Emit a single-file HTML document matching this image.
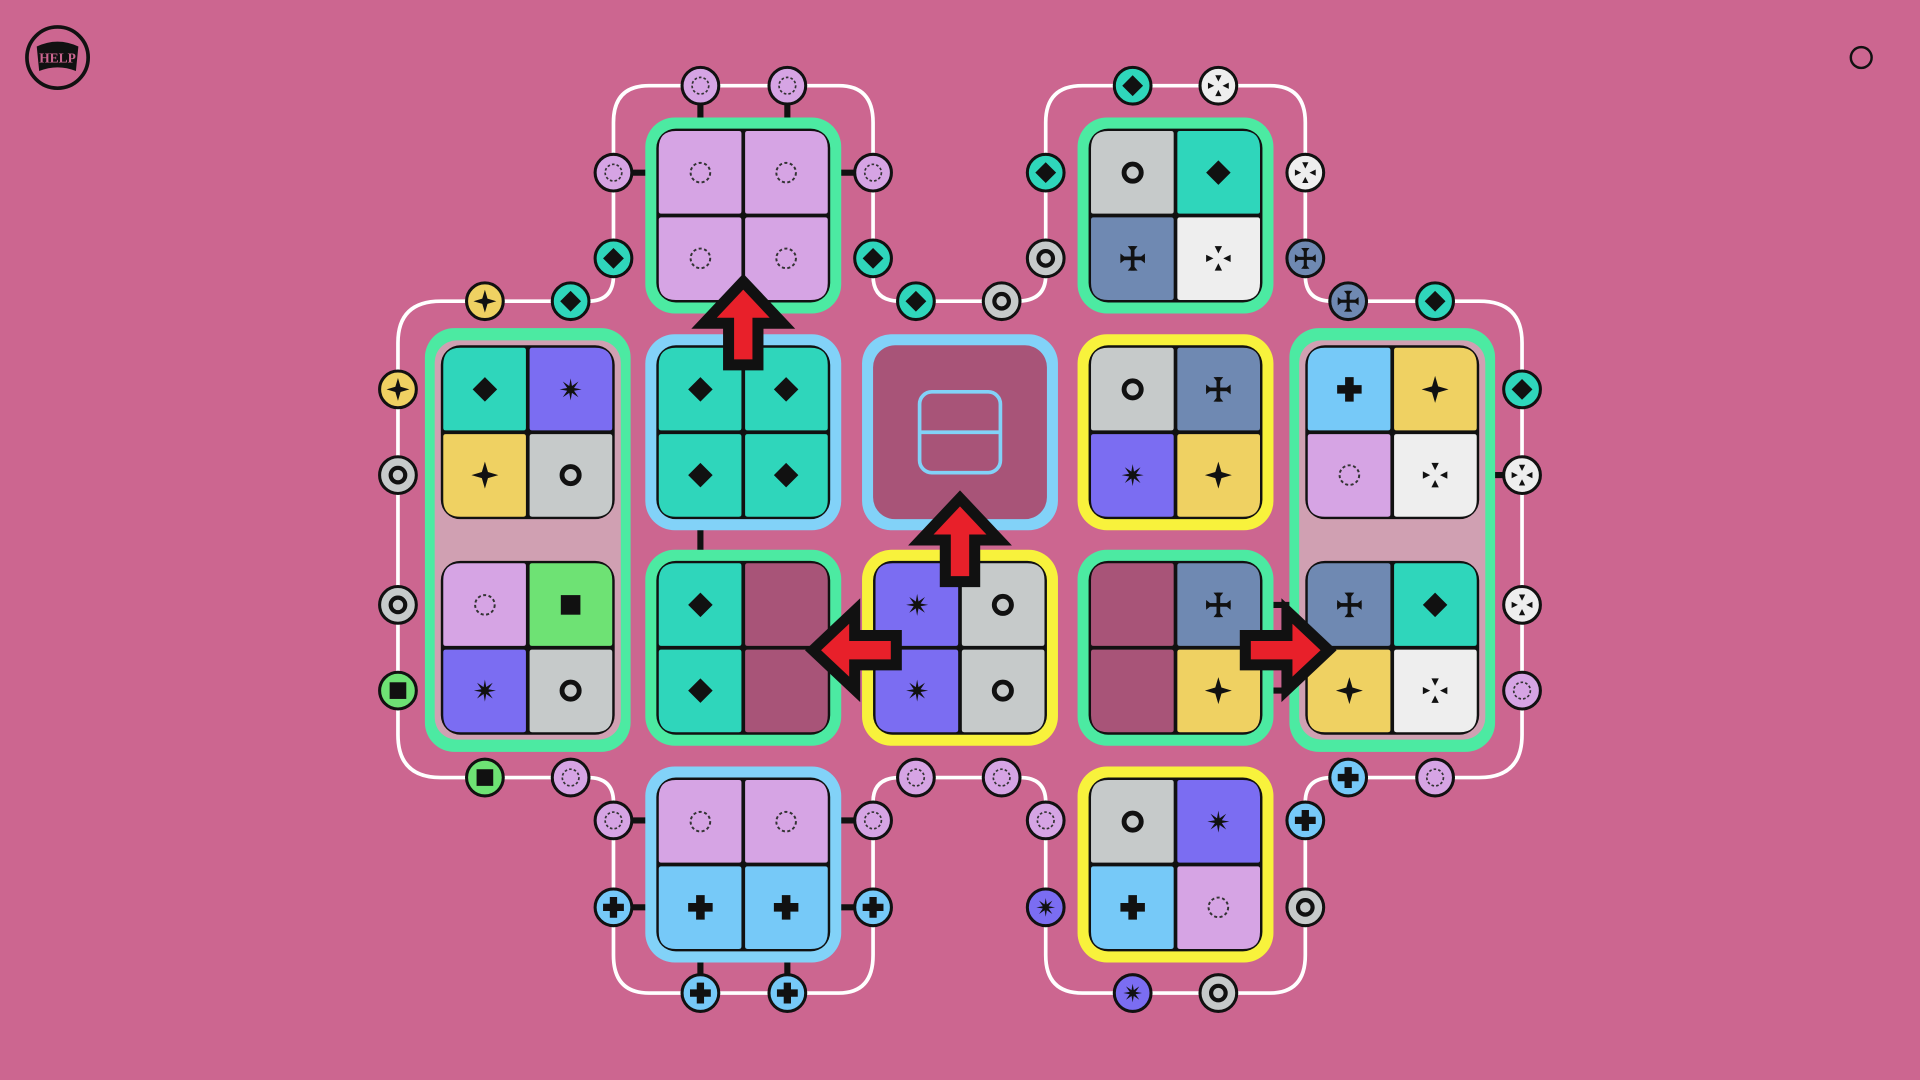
<!DOCTYPE html>
<html><head><meta charset="utf-8"><style>
html,body{margin:0;padding:0;background:#cc6690;overflow:hidden}
#wrap{width:1568px;height:882px;transform:scale(1.22449);transform-origin:0 0}
svg{display:block}
</style></head><body><div id="wrap">
<svg id="s" width="1568" height="882" viewBox="0 0 1568 882" xmlns="http://www.w3.org/2000/svg">
<rect width="1568" height="882" fill="#cc6690"/>
<path d="M325 280 Q325 246 360 246 L480 246 Q501 246 501 225 L501 100 Q501 70 530 70 L685 70 Q713 70 713 100 L713 225 Q713 246 735 246 L830 246 Q854 246 854 225 L854 100 Q854 70 884 70 L1037 70 Q1066 70 1066 100 L1066 225 Q1066 246 1088 246 L1208 246 Q1243 246 1243 280 L1243 600 Q1243 635 1208 635 L1088 635 Q1066 635 1066 655 L1066 780 Q1066 811 1037 811 L884 811 Q854 811 854 780 L854 655 Q854 635 833 635 L735 635 Q713 635 713 655 L713 780 Q713 811 685 811 L530 811 Q501 811 501 780 L501 655 Q501 635 480 635 L360 635 Q325 635 325 600 Z" fill="none" stroke="#fff" stroke-width="3"/>
<g id="g"></g>
<circle cx="47" cy="47" r="25" fill="#cc6690" stroke="#111" stroke-width="3"/>
<path d="M30 38 Q47 30 64 38 L62 58 Q47 52 32 58 Z" fill="#111"/>
<text x="47" y="51" font-family="Liberation Serif,serif" font-weight="bold" font-size="11" fill="#cc6690" text-anchor="middle">HELP</text>
<circle cx="1520" cy="47" r="8.5" fill="none" stroke="#111" stroke-width="2"/>
</svg></div>
<script>
const C={teal:'#2fd6bb',lil:'#d6a4e4',pur:'#7b6df2',gray:'#c6caca',yel:'#efd162',stl:'#6f89b2',wht:'#eeeeee',blu:'#76c9f8',grn:'#6ee274',dp:'#a85478'};
const B={g:'#4ceaa2',b:'#82d2f8',y:'#f8f23c'};
let h='';
function icon(t,x,y,s){s=s||1;let k=`transform="translate(${x} ${y}) scale(${s})"`;
switch(t){
case 'dia':return `<polygon ${k} points="0,-10 10,0 0,10 -10,0" fill="#111"/>`;
case 's8':{let p=[];for(let i=0;i<16;i++){let r=i%2?3:9,a=i*Math.PI/8;p.push((r*Math.sin(a)).toFixed(1)+','+(-r*Math.cos(a)).toFixed(1));}return `<polygon ${k} points="${p.join(' ')}" fill="#111"/>`;}
case 's4':return `<polygon ${k} points="0,-11 2.5,-2.5 11,0 2.5,2.5 0,11 -2.5,2.5 -11,0 -2.5,-2.5" fill="#111"/>`;
case 'ring':return `<circle ${k} r="7" fill="none" stroke="#111" stroke-width="4"/>`;
case 'plus':return `<path ${k} d="M-3.5 -10h7v6.5h6.5v7h-6.5v6.5h-7v-6.5h-6.5v-7h6.5z" fill="#111"/>`;
case 'crs':return `<g ${k} fill="#111"><rect x="-1.5" y="-10" width="3" height="20"/><rect x="-10" y="-1.5" width="20" height="3"/><polygon points="-4,-10 4,-10 0,-5"/><polygon points="-4,10 4,10 0,5"/><polygon points="-10,-4 -10,4 -5,0"/><polygon points="10,-4 10,4 5,0"/></g>`;
case 'dots':return `<g ${k} fill="#111"><polygon points="-3,-10 3,-10 0,-4"/><polygon points="-3,10 3,10 0,4"/><polygon points="-10,-3 -10,3 -4,0"/><polygon points="10,-3 10,3 4,0"/></g>`;
case 'dash':return `<circle ${k} r="8" fill="none" stroke="#333" stroke-width="1.6" stroke-dasharray="2.5 2"/>`;
case 'sq':return `<rect ${k} x="-8" y="-8" width="16" height="16" fill="#111"/>`;
}return '';}
const F={dia:'teal',s8:'pur',s4:'yel',ring:'gray',plus:'blu',crs:'stl',dots:'wht',dash:'lil',sq:'grn'};
function cells(cx,cy,list){
 h+=`<rect x="${cx-71}" y="${cy-71}" width="142" height="142" rx="16" fill="#111"/>`;
 const pos=[[-1,-1],[1,-1],[-1,1],[1,1]];
 list.forEach((t,i)=>{let [dx,dy]=pos[i];let x=cx+(dx<0?-69:1.5),y=cy+(dy<0?-69:1.5);
  let col=t=='dp'?C.dp:C[F[t]];
  h+=`<path d="${rr(x,y,67.5,67.5,dx,dy)}" fill="${col}"/>`;
  if(t!='dp')h+=icon(t,cx+dx*35,cy+dy*35);});
}
function rr(x,y,w,hh,dx,dy){let r=14;
 let tl=(dx<0&&dy<0)?r:2,tr=(dx>0&&dy<0)?r:2,br=(dx>0&&dy>0)?r:2,bl=(dx<0&&dy>0)?r:2;
 return `M${x+tl} ${y}H${x+w-tr}Q${x+w} ${y} ${x+w} ${y+tr}V${y+hh-br}Q${x+w} ${y+hh} ${x+w-br} ${y+hh}H${x+bl}Q${x} ${y+hh} ${x} ${y+hh-bl}V${y+tl}Q${x} ${y} ${x+tl} ${y}Z`;}
function tile(cx,cy,b,list){h+=`<rect x="${cx-80}" y="${cy-80}" width="160" height="160" rx="24" fill="${B[b]}"/>`;cells(cx,cy,list);}
const st=[[572,70,572,110],[643,70,643,110],[501,141,540,141],[713,141,675,141],[572,420,572,470],[1243,388,1200,388],[1030,494,1070,494],[1030,564,1070,564],[501,670,540,670],[713,670,675,670],[501,741,540,741],[713,741,675,741],[572,811,572,770],[643,811,643,770]];
st.forEach(s=>h+=`<line x1="${s[0]}" y1="${s[1]}" x2="${s[2]}" y2="${s[3]}" stroke="#111" stroke-width="5"/>`);
[[431],[1137]].forEach(([cx])=>{h+=`<rect x="${cx-84}" y="268" width="168" height="346" rx="24" fill="${B.g}"/><rect x="${cx-76}" y="278" width="152" height="326" rx="18" fill="#d0a0b2"/>`;});
cells(431,353,['dia','s8','s4','ring']);cells(431,529,['dash','sq','s8','ring']);
cells(1137,353,['plus','s4','dash','dots']);cells(1137,529,['crs','dia','s4','dots']);
tile(607,176,'g',['dash','dash','dash','dash']);
tile(960,176,'g',['ring','dia','crs','dots']);
tile(607,353,'b',['dia','dia','dia','dia']);
h+=`<rect x="704" y="273" width="160" height="160" rx="24" fill="${B.b}"/><rect x="713" y="282" width="142" height="142" rx="18" fill="${C.dp}"/><rect x="751" y="320" width="66" height="66" rx="10" fill="none" stroke="${B.b}" stroke-width="3"/><line x1="751" y1="353" x2="817" y2="353" stroke="${B.b}" stroke-width="3"/>`;
tile(960,353,'y',['ring','crs','s8','s4']);
tile(607,529,'g',['dia','dp','dia','dp']);
tile(784,529,'y',['s8','ring','s8','ring']);
tile(960,529,'g',['dp','crs','dp','s4']);
tile(607,706,'b',['dash','dash','plus','plus']);
tile(960,706,'y',['ring','s8','plus','dash']);
const cn=[[572,70,'dash'],[643,70,'dash'],[501,141,'dash'],[713,141,'dash'],[501,211,'dia'],[713,211,'dia'],[748,246,'dia'],[818,246,'ring'],[854,211,'ring'],[854,141,'dia'],[925,70,'dia'],[995,70,'dots'],[1066,141,'dots'],[1066,211,'crs'],[1101,246,'crs'],[1172,246,'dia'],[1243,318,'dia'],[1243,388,'dots'],[1243,494,'dots'],[1243,564,'dash'],[1172,635,'dash'],[1101,635,'plus'],[1066,670,'plus'],[1066,741,'ring'],[995,811,'ring'],[925,811,'s8'],[854,741,'s8'],[854,670,'dash'],[818,635,'dash'],[748,635,'dash'],[713,670,'dash'],[713,741,'plus'],[643,811,'plus'],[572,811,'plus'],[501,741,'plus'],[501,670,'dash'],[466,635,'dash'],[396,635,'sq'],[325,564,'sq'],[325,494,'ring'],[325,388,'ring'],[325,318,'s4'],[396,246,'s4'],[466,246,'dia']];
cn.forEach(([x,y,t])=>{h+=`<circle cx="${x}" cy="${y}" r="15" fill="${C[F[t]]}" stroke="#111" stroke-width="2.5"/>`+icon(t,x,y,0.85);});
function arrow(x,y,rot){h+=`<path transform="translate(${x} ${y}) rotate(${rot})" d="M0 -34 L32 0 L12 0 L12 34 L-12 34 L-12 0 L-32 0 Z" fill="#e8202a" stroke="#111" stroke-width="9" stroke-linejoin="miter"/>`;}
arrow(607,264,0);arrow(784,441,0);arrow(698,531,-90);arrow(1051,531,90);
document.getElementById('g').innerHTML=h;
</script>
</body></html>
